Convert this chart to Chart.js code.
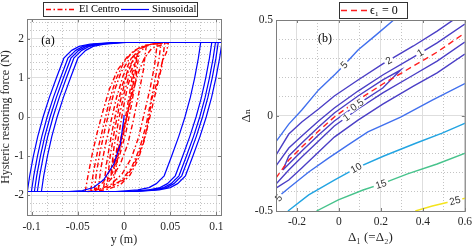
<!DOCTYPE html>
<html>
<head>
<meta charset="utf-8">
<script src="https://cdn.jsdelivr.net/npm/chart.js@4.4.1/dist/chart.umd.min.js"></script>
<style>
  body { margin: 0; background: #fff; }
  .panel { position: absolute; top: 0; width: 238px; height: 247px; }
  #panelA { left: 0; }
  #panelB { left: 238px; }
</style>
</head>
<body>
<div class="panel" id="panelA"><canvas id="chartA"></canvas></div>
<div class="panel" id="panelB"><canvas id="chartB"></canvas></div>
<script>
// ---------- panel (a): hysteretic restoring force vs displacement ----------
const xTicksA = [-0.1, -0.05, 0, 0.05, 0.1]
const xTickLabelsA = ['-0.1', '-0.05', '0', '0.05', '0.1']
const xMinorA = [-0.0833, -0.0667, -0.0333, -0.0167, 0.0167, 0.0333, 0.0667, 0.0833]
const yTicksA = [-2, -1, 0, 1, 2]
const yTickLabelsA = ['-2', '-1', '0', '1', '2']
const yMinorA = [-2.4, -2.2, -1.8, -1.6, -1.4, -1.2, -0.8, -0.6, -0.4, -0.2, 0.2, 0.4, 0.6, 0.8, 1.2, 1.4, 1.6, 1.8, 2.2, 2.4]

// El Centro response (y, F)
const elCentro1 = [[-0.042,-1.9],[-0.039,-1.5],[-0.034,-0.9],[-0.029,-0.4],[-0.024,0.05],[-0.016,0.7],[-0.007,1.2],[0.004,1.55],[0.016,1.76],[0.030,1.86],[0.048,1.89],
  [0.046,1.65],[0.042,1.45],[0.036,0.9],[0.030,0.45],[0.027,0.0],[0.022,-0.6],[0.015,-1.1],[0.0065,-1.48],[-0.004,-1.73],[-0.020,-1.86],[-0.040,-1.9]]
const elCentro2 = [[-0.036,-1.88],[-0.033,-1.4],[-0.028,-0.8],[-0.022,-0.2],[-0.016,0.4],[-0.009,0.95],[0.0,1.4],[0.010,1.68],[0.022,1.83],[0.040,1.88],
  [0.038,1.5],[0.034,1.0],[0.029,0.4],[0.024,-0.2],[0.017,-0.8],[0.008,-1.3],[-0.003,-1.62],[-0.017,-1.8],[-0.036,-1.88]]
const elCentro3 = [[-0.028,-1.86],[-0.025,-1.3],[-0.020,-0.7],[-0.014,-0.1],[-0.008,0.5],[-0.001,1.05],[0.008,1.5],[0.018,1.75],[0.030,1.86],[0.036,1.88],
  [0.033,1.3],[0.028,0.7],[0.022,0.1],[0.016,-0.5],[0.008,-1.05],[-0.002,-1.45],[-0.014,-1.72],[-0.028,-1.86]]
const elCentro4 = [[-0.022,-1.8],[-0.019,-1.2],[-0.014,-0.5],[-0.008,0.2],[-0.002,0.8],[0.006,1.3],[0.014,1.6],[0.024,1.8],
  [0.021,1.2],[0.016,0.6],[0.010,-0.1],[0.004,-0.7],[-0.004,-1.2],[-0.013,-1.55],[-0.022,-1.8]]
const elCentro5 = [[-0.018,-1.65],[-0.015,-1.0],[-0.010,-0.3],[-0.004,0.4],[0.002,1.0],[0.009,1.4],[0.016,1.6],
  [0.013,1.0],[0.008,0.3],[0.002,-0.4],[-0.005,-1.0],[-0.012,-1.4],[-0.018,-1.65]]
const elCentro6 = [[-0.014,-1.45],[-0.011,-0.8],[-0.006,-0.1],[0.0,0.6],[0.006,1.1],[0.012,1.4],
  [0.009,0.8],[0.004,0.1],[-0.002,-0.6],[-0.008,-1.1],[-0.014,-1.45]]
const elCentro7 = [[-0.010,-1.2],[-0.006,-0.5],[-0.001,0.2],[0.004,0.8],[0.010,1.2],
  [0.006,0.6],[0.001,-0.1],[-0.005,-0.7],[-0.010,-1.2]]
const elCentro8 = [[-0.032,-1.87],[-0.030,-1.45],[-0.026,-0.9],[-0.021,-0.35],[-0.015,0.25],[-0.010,0.7],[-0.003,1.15],[0.005,1.45],[0.014,1.6],
  [0.012,1.1],[0.007,0.45],[0.001,-0.2],[-0.006,-0.8],[-0.014,-1.3],[-0.022,-1.65],[-0.032,-1.87]]
const elCentro9 = [[-0.012,-1.75],[-0.008,-1.2],[-0.003,-0.6],[0.003,0.0],[0.009,0.6],[0.015,1.1],[0.022,1.5],[0.030,1.75],[0.044,1.87],
  [0.041,1.3],[0.036,0.8],[0.030,0.2],[0.024,-0.4],[0.017,-0.9],[0.009,-1.3],[0.0,-1.6],[-0.012,-1.75]]

// sinusoidal response: first loading then five saturated loops
const sine0 = [[0,0.05],[0,0],[-0.004,-0.7],[-0.011,-1.2],[-0.022,-1.6],[-0.033,-1.8],[-0.045,-1.88],[-0.06,-1.9],[-0.1046,-1.9]]
const sine1 = [[-0.1046,-1.9],[-0.1021,-1.5],[-0.0981,-1],[-0.0934,-0.5],[-0.0876,0],[-0.0808,0.5],[-0.0731,1],[-0.0651,1.5],[-0.0566,1.7],[-0.0486,1.8],[-0.0366,1.86],[-0.0126,1.9],
  [0.083,1.9],[0.0805,1.5],[0.0765,1],[0.0718,0.5],[0.066,0],[0.0592,-0.5],[0.0515,-1],[0.0435,-1.5],[0.035,-1.7],[0.027,-1.8],[0.015,-1.86],[-0.009,-1.9],[-0.1002,-1.9]]
const sine2 = [[-0.1002,-1.9],[-0.0977,-1.5],[-0.0937,-1],[-0.089,-0.5],[-0.0832,0],[-0.0764,0.5],[-0.0687,1],[-0.0607,1.5],[-0.0522,1.7],[-0.0442,1.8],[-0.0322,1.86],[-0.0082,1.9],
  [0.095,1.9],[0.0925,1.5],[0.0885,1],[0.0838,0.5],[0.078,0],[0.0712,-0.5],[0.0635,-1],[0.0555,-1.5],[0.047,-1.7],[0.039,-1.8],[0.027,-1.86],[0.003,-1.9],[-0.097,-1.9]]
const sine3 = [[-0.097,-1.9],[-0.0945,-1.5],[-0.0905,-1],[-0.0858,-0.5],[-0.080,0],[-0.0732,0.5],[-0.0655,1],[-0.0575,1.5],[-0.049,1.7],[-0.041,1.8],[-0.029,1.86],[-0.005,1.9],
  [0.099,1.9],[0.0965,1.5],[0.0925,1],[0.0878,0.5],[0.082,0],[0.0752,-0.5],[0.0675,-1],[0.0595,-1.5],[0.051,-1.7],[0.043,-1.8],[0.031,-1.86],[0.007,-1.9],[-0.0938,-1.9]]
const sine4 = [[-0.0938,-1.9],[-0.0913,-1.5],[-0.0873,-1],[-0.0826,-0.5],[-0.0768,0],[-0.070,0.5],[-0.0623,1],[-0.0543,1.5],[-0.0458,1.7],[-0.0378,1.8],[-0.0258,1.86],[-0.0018,1.9],
  [0.102,1.9],[0.0995,1.5],[0.0955,1],[0.0908,0.5],[0.085,0],[0.0782,-0.5],[0.0705,-1],[0.0625,-1.5],[0.054,-1.7],[0.046,-1.8],[0.034,-1.86],[0.010,-1.9],[-0.0894,-1.9]]
const sine5 = [[-0.0894,-1.9],[-0.0869,-1.5],[-0.0829,-1],[-0.0782,-0.5],[-0.0724,0],[-0.0656,0.5],[-0.0579,1],[-0.0499,1.5],[-0.0414,1.7],[-0.0334,1.8],[-0.0214,1.86],[0.0026,1.9],
  [0.106,1.9],[0.1035,1.5],[0.0995,1],[0.0948,0.5],[0.089,0],[0.0822,-0.5],[0.0745,-1],[0.0665,-1.5],[0.058,-1.7],[0.050,-1.8],[0.038,-1.86],[0.014,-1.9],[-0.106,-1.9]]

const elCentroLoops = [elCentro1, elCentro2, elCentro3, elCentro4, elCentro5, elCentro6, elCentro7, elCentro8, elCentro9]
const sineLoops = [sine0, sine1, sine2, sine3, sine4, sine5]

// ---------- panel (b): contour map over (Delta1, Delta_n) ----------
const xTicksB = [-0.2, 0, 0.2, 0.4, 0.6]
const xTickLabelsB = ['-0.2', '0', '0.2', '0.4', '0.6']
const xMinorB = [-0.1, 0.1, 0.3, 0.5]
const yTicksB = [-0.5, 0, 0.5]
const yTickLabelsB = ['-0.5', '0', '0.5']
const yMinorB = [-0.4, -0.3, -0.2, -0.1, 0.1, 0.2, 0.3, 0.4]

const contour05 = [[-0.267,-0.285],[-0.239,-0.212],[-0.177,-0.144],[-0.097,-0.060],[-0.022,0.013],[0.091,0.102],[0.209,0.186],[0.294,0.238],
  [0.209,0.144],[0.091,0.060],[-0.022,-0.029],[-0.097,-0.102],[-0.177,-0.186],[-0.239,-0.254],[-0.267,-0.285]]
const contour1Upper = [[-0.3,-0.264],[-0.239,-0.170],[-0.177,-0.107],[-0.097,-0.029],[-0.022,0.039],[0.091,0.128],[0.209,0.212],[0.355,0.306],[0.468,0.380],[0.6,0.479]]
const contour1Lower = [[-0.3,-0.359],[-0.239,-0.285],[-0.177,-0.217],[-0.097,-0.134],[-0.022,-0.055],[0.091,0.034],[0.209,0.118],[0.355,0.212],[0.468,0.285],[0.6,0.385]]
const contour2Upper = [[-0.3,-0.207],[-0.239,-0.097],[-0.177,-0.034],[-0.097,0.034],[-0.022,0.102],[0.091,0.186],[0.209,0.270],[0.355,0.364],[0.468,0.442],[0.6,0.542]]
const contour2Lower = [[-0.3,-0.380],[-0.239,-0.338],[-0.177,-0.275],[-0.097,-0.191],[-0.022,-0.113],[0.091,-0.024],[0.209,0.060],[0.355,0.154],[0.468,0.223],[0.6,0.322]]
const contour5Upper = [[-0.305,-0.144],[-0.239,-0.045],[-0.177,0.029],[-0.097,0.134],[-0.017,0.217],[0.025,0.264],[0.091,0.343],[0.176,0.421],[0.261,0.5]]
const contour5Lower = [[-0.3,-0.445],[-0.272,-0.41],[-0.239,-0.380],[-0.144,-0.296],[-0.050,-0.223],[0.044,-0.154],[0.138,-0.086],[0.294,-0.008],[0.445,0.081],[0.605,0.170]]
const contour10 = [[-0.243,-0.5],[-0.144,-0.416],[-0.022,-0.338],[0.082,-0.275],[0.214,-0.212],[0.369,-0.144],[0.492,-0.092],[0.605,-0.039]]
const contour15 = [[-0.107,-0.5],[-0.003,-0.442],[0.115,-0.390],[0.2,-0.359],[0.327,-0.306],[0.468,-0.254],[0.605,-0.196]]
const contour25 = [[0.364,-0.5],[0.445,-0.474],[0.525,-0.453],[0.605,-0.432]]
const epsilonZero = [[-0.3,-0.327],[-0.239,-0.233],[-0.177,-0.165],[-0.097,-0.081],[-0.022,-0.008],[0.091,0.081],[0.209,0.165],[0.355,0.259],[0.468,0.332],[0.6,0.432]]

const contourLabels = [
  { text: '5', x: 0.025, y: 0.264 },
  { text: '2', x: 0.237, y: 0.288 },
  { text: '1', x: 0.388, y: 0.328 },
  { text: '0.5', x: 0.086, y: 0.056 },
  { text: '1', x: 0.035, y: -0.010 },
  { text: '5', x: -0.287, y: -0.432 },
  { text: '10', x: 0.082, y: -0.275 },
  { text: '15', x: 0.2, y: -0.359 },
  { text: '25', x: 0.553, y: -0.446 }
]

const serif = 'Liberation Serif, DejaVu Serif, serif'
const textColor = '#262626'
const majorGrid = '#dedede'
const minorGrid = '#c4c4c4'

function lineSet(points, color, width, dash, order) {
  return {
    data: points.map(p => ({ x: p[0], y: p[1] })),
    borderColor: color,
    borderWidth: width,
    borderDash: dash,
    showLine: true,
    pointRadius: 0,
    fill: false,
    order: order
  }
}

// angle of the contour segment nearest to a label, so the text follows the line
function nearestAngle(chart, px, py) {
  let best = Infinity
  let angle = 0
  chart.data.datasets.forEach((ds, i) => {
    const pts = chart.getDatasetMeta(i).data
    for (let k = 1; k < pts.length; k++) {
      const a = pts[k - 1], b = pts[k]
      const dx = b.x - a.x, dy = b.y - a.y
      const len2 = dx * dx + dy * dy || 1
      let t = ((px - a.x) * dx + (py - a.y) * dy) / len2
      t = Math.max(0, Math.min(1, t))
      const d = Math.hypot(a.x + t * dx - px, a.y + t * dy - py)
      if (d < best) { best = d; angle = Math.atan2(dy, dx) }
    }
  })
  if (angle > Math.PI / 2) angle -= Math.PI
  if (angle < -Math.PI / 2) angle += Math.PI
  return angle
}

const panelDecor = {
  id: 'panelDecor',
  afterDatasetsDraw(chart, args, opts) {
    const ctx = chart.ctx
    const { left, right, top, bottom } = chart.chartArea
    const xs = chart.scales.x
    const ys = chart.scales.y
    ctx.save()

    // contour labels in a gap of their own line
    ;(opts.labels || []).forEach(lab => {
      const px = xs.getPixelForValue(lab.x)
      const py = ys.getPixelForValue(lab.y)
      const angle = nearestAngle(chart, px, py)
      ctx.save()
      ctx.translate(px, py)
      ctx.rotate(angle)
      ctx.font = '10px Liberation Sans, Arial, sans-serif'
      const w = ctx.measureText(lab.text).width
      ctx.fillStyle = '#fff'
      ctx.fillRect(-w / 2 - 2, -4, w + 4, 8)
      ctx.fillStyle = '#333'
      ctx.textAlign = 'center'
      ctx.textBaseline = 'middle'
      ctx.fillText(lab.text, 0, 0.5)
      ctx.restore()
    })

    // box and inward ticks, like matlab axes
    ctx.strokeStyle = '#7d7d7d'
    ctx.lineWidth = 1
    ctx.strokeRect(left + 0.5, top + 0.5, right - left, bottom - top)
    ctx.beginPath()
    xs.ticks.forEach(t => {
      const p = Math.round(xs.getPixelForValue(t.value)) + 0.5
      ctx.moveTo(p, bottom); ctx.lineTo(p, bottom - 3)
      ctx.moveTo(p, top); ctx.lineTo(p, top + 3)
    })
    ys.ticks.forEach(t => {
      const p = Math.round(ys.getPixelForValue(t.value)) + 0.5
      ctx.moveTo(left, p); ctx.lineTo(left + 3, p)
      ctx.moveTo(right, p); ctx.lineTo(right - 3, p)
    })
    ctx.stroke()

    // panel tag
    ctx.fillStyle = '#000'
    ctx.font = '12px ' + serif
    ctx.textAlign = 'center'
    ctx.textBaseline = 'middle'
    ctx.fillText(opts.tag, left + opts.tagDx, top + opts.tagDy)

    // boxed legend, line styles taken from the datasets
    const lg = opts.legend
    ctx.fillStyle = '#fff'
    ctx.fillRect(lg.x, lg.y, lg.w, lg.h)
    ctx.strokeStyle = '#333'
    ctx.strokeRect(lg.x + 0.5, lg.y + 0.5, lg.w, lg.h)
    const cy = lg.y + lg.h / 2 + 0.5
    lg.items.forEach(it => {
      const ds = chart.data.datasets[it.datasetIndex]
      ctx.beginPath()
      ctx.setLineDash(ds.borderDash || [])
      ctx.strokeStyle = ds.borderColor
      ctx.lineWidth = ds.borderWidth
      ctx.moveTo(it.x1, cy)
      ctx.lineTo(it.x2, cy)
      ctx.stroke()
      ctx.setLineDash([])
      ctx.fillStyle = '#000'
      ctx.font = lg.font
      ctx.textAlign = 'left'
      ctx.fillText(it.text, it.tx, cy)
    })
    ctx.restore()
  }
}

function axes(cfg) {
  const tickFont = { family: serif, size: 11.5 }
  const titleFont = { family: serif, size: cfg.titleSize, lineHeight: 1 }
  return {
    x: {
      type: 'linear', position: 'bottom', min: cfg.xMin, max: cfg.xMax,
      afterBuildTicks: s => { s.ticks = cfg.xTicks.map(v => ({ value: v })) },
      ticks: { callback: (v, i) => cfg.xLabels[i], font: tickFont, color: textColor, padding: cfg.xPad, maxRotation: 0, autoSkip: false },
      grid: { color: majorGrid, drawTicks: false },
      border: { display: false },
      title: { display: true, text: cfg.xTitle, font: titleFont, color: textColor, padding: { top: 0, bottom: cfg.xTitlePad } },
      afterFit: s => { s.height = cfg.xHeight }
    },
    xMinor: {
      type: 'linear', position: 'bottom', min: cfg.xMin, max: cfg.xMax,
      afterBuildTicks: s => { s.ticks = cfg.xMinor.map(v => ({ value: v })) },
      ticks: { display: false },
      grid: { color: minorGrid, drawTicks: false },
      border: { display: false, dash: [1, 2] },
      afterFit: s => { s.height = 0 }
    },
    y: {
      type: 'linear', position: 'left', min: cfg.yMin, max: cfg.yMax,
      afterBuildTicks: s => { s.ticks = cfg.yTicks.map(v => ({ value: v })) },
      ticks: { callback: (v, i) => cfg.yLabels[i], font: tickFont, color: textColor, padding: 3, autoSkip: false },
      grid: { color: majorGrid, drawTicks: false },
      border: { display: false },
      title: { display: true, text: cfg.yTitle, font: titleFont, color: textColor, padding: { top: cfg.yTitlePad, bottom: 0 } },
      afterFit: s => { s.width = cfg.yWidth }
    },
    yMinor: {
      type: 'linear', position: 'left', min: cfg.yMin, max: cfg.yMax,
      afterBuildTicks: s => { s.ticks = cfg.yMinor.map(v => ({ value: v })) },
      ticks: { display: false },
      grid: { color: minorGrid, drawTicks: false },
      border: { display: false, dash: [1, 2] },
      afterFit: s => { s.width = 0 }
    }
  }
}

const redDashDot = [5, 2.5, 1.5, 2.5]
const datasetsA = [
  ...elCentroLoops.map(l => lineSet(l, '#ff0000', 1.4, redDashDot, 2)),
  ...sineLoops.map(l => lineSet(l, '#0000ff', 1.2, [], 1))
]

new Chart(document.getElementById('chartA'), {
  type: 'scatter',
  data: { datasets: datasetsA },
  options: {
    responsive: true, maintainAspectRatio: false, animation: false, devicePixelRatio: 1,
    layout: { padding: { left: 0, top: 19, right: 17, bottom: 0 } },
    scales: axes({
      xMin: -0.105, xMax: 0.105, xTicks: xTicksA, xLabels: xTickLabelsA, xMinor: xMinorA,
      yMin: -2.5, yMax: 2.5, yTicks: yTicksA, yLabels: yTickLabelsA, yMinor: yMinorA,
      xTitle: 'y (m)', yTitle: 'Hysteric restoring force (N)', titleSize: 12,
      xPad: 5, xTitlePad: 1, xHeight: 32, yWidth: 27, yTitlePad: 0
    }),
    plugins: {
      legend: { display: false },
      tooltip: { enabled: false },
      panelDecor: {
        tag: '(a)', tagDx: 21, tagDy: 22,
        legend: {
          x: 43, y: 2, w: 154, h: 14, font: '10.5px ' + serif,
          items: [
            { datasetIndex: 0, text: 'El Centro', x1: 46, x2: 76, tx: 79 },
            { datasetIndex: elCentroLoops.length, text: 'Sinusoidal', x1: 121, x2: 149, tx: 152 }
          ]
        }
      }
    }
  },
  plugins: [panelDecor]
})

const purple = '#4b3fc6'
const datasetsB = [
  lineSet(contour05, purple, 1.4, [], 2),
  lineSet(contour1Upper, purple, 1.4, [], 2),
  lineSet(contour1Lower, purple, 1.4, [], 2),
  lineSet(contour2Upper, purple, 1.4, [], 2),
  lineSet(contour2Lower, purple, 1.4, [], 2),
  lineSet(contour5Upper, '#4170ee', 1.4, [], 2),
  lineSet(contour5Lower, '#4170ee', 1.4, [], 2),
  lineSet(contour10, '#22a4e2', 1.4, [], 2),
  lineSet(contour15, '#47c38c', 1.4, [], 2),
  lineSet(contour25, '#f4e41c', 1.4, [], 2),
  lineSet(epsilonZero, '#ff1f1f', 1.4, [6, 4], 1)
]

new Chart(document.getElementById('chartB'), {
  type: 'scatter',
  data: { datasets: datasetsB },
  options: {
    responsive: true, maintainAspectRatio: false, animation: false, devicePixelRatio: 1,
    layout: { padding: { left: 0, top: 20, right: 8, bottom: 0 } },
    scales: axes({
      xMin: -0.3, xMax: 0.6, xTicks: xTicksB, xLabels: xTickLabelsB, xMinor: xMinorB,
      yMin: -0.5, yMax: 0.5, yTicks: yTicksB, yLabels: yTickLabelsB, yMinor: yMinorB,
      xTitle: 'Δ₁ (=Δ₂)', yTitle: 'Δₙ', titleSize: 13,
      xPad: 4, xTitlePad: 3, xHeight: 36, yWidth: 38, yTitlePad: 2
    }),
    plugins: {
      legend: { display: false },
      tooltip: { enabled: false },
      panelDecor: {
        labels: contourLabels,
        tag: '(b)', tagDx: 49, tagDy: 19,
        legend: {
          x: 101, y: 2, w: 68, h: 16, font: '12px ' + serif,
          items: [
            { datasetIndex: datasetsB.length - 1, text: 'ϵ₁ = 0', x1: 103, x2: 129, tx: 132 }
          ]
        }
      }
    }
  },
  plugins: [panelDecor]
})
</script>
</body>
</html>
